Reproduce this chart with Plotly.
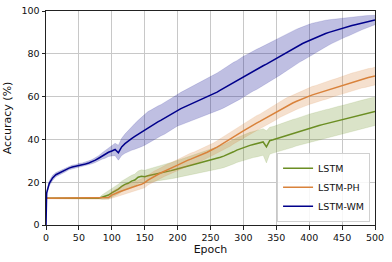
import plotly.graph_objects as go

epochs = [0, 1] + list(range(5, 501, 5))

wm_mean = [
    0.0, 15.0, 19.5, 22.0, 23.5, 24.3, 25.2, 25.8, 26.6, 27.1, 27.4,
    27.9, 28.2, 28.5, 29.0, 29.6, 30.3, 31.2, 32.2, 33.0, 34.0,
    34.6, 35.3, 33.8, 36.5, 38.0, 39.3, 40.4, 41.4, 42.4, 43.5,
    44.6, 45.6, 46.5, 47.4, 48.2, 49.0, 49.9, 50.8, 51.8, 52.7,
    53.7, 54.4, 55.1, 55.8, 56.5, 57.2, 57.8, 58.5, 59.2, 59.8,
    60.5, 61.3, 62.1, 63.0, 63.9, 64.8, 65.6, 66.5, 67.4, 68.4,
    69.3, 70.2, 71.0, 71.9, 72.7, 73.5, 74.4, 75.2, 76.1, 77.0,
    77.9, 78.8, 79.7, 80.6, 81.5, 82.4, 83.2, 84.0, 84.8, 85.5,
    86.2, 86.9, 87.6, 88.3, 88.9, 89.5, 90.0, 90.5, 91.0, 91.4,
    91.8, 92.3, 92.7, 93.2, 93.6, 94.0, 94.4, 94.8, 95.2, 95.5,
    95.8,
]
wm_spread = [
    0.0, 1.0, 1.2, 1.2, 1.0, 0.9, 0.8, 0.9, 0.8, 0.9, 0.8,
    0.9, 0.8, 0.9, 1.0, 1.0, 1.1, 1.2, 1.5, 1.8, 2.0,
    2.3, 2.9, 3.5, 4.0, 4.5, 5.0, 5.5, 6.0, 6.5, 6.9,
    7.3, 7.4, 7.3, 7.5, 7.4, 7.3, 7.5, 7.4, 7.3, 7.5,
    7.4, 7.6, 7.7, 7.8, 7.9, 8.0, 8.1, 8.2, 8.4, 8.5,
    8.6, 8.8, 8.9, 9.0, 9.2, 9.3, 9.4, 9.5, 9.4, 9.6,
    9.5, 9.4, 9.5, 9.3, 9.4, 9.3, 9.2, 9.3, 9.1, 9.2,
    9.0, 8.9, 8.8, 8.6, 8.5, 8.3, 8.2, 8.0, 7.9, 7.8,
    7.6, 7.4, 7.1, 6.8, 6.5, 6.2, 5.9, 5.6, 5.3, 5.0,
    4.8, 4.5, 4.3, 4.0, 3.8, 3.5, 3.2, 3.0, 2.7, 2.5,
    2.2,
]

ph_mean = [
    12.5, 12.5, 12.5, 12.5, 12.5, 12.5, 12.5, 12.5, 12.5, 12.5, 12.5,
    12.5, 12.5, 12.5, 12.5, 12.5, 12.5, 12.5, 12.5, 12.5, 12.8,
    14.0, 14.8, 15.3, 15.9, 16.5, 17.0, 17.5, 18.0, 18.6, 19.0,
    19.8, 21.0, 22.0, 22.8, 23.6, 24.4, 25.2, 25.9, 26.6, 27.3,
    28.0, 28.8, 29.5, 30.2, 30.8, 31.4, 32.0, 32.6, 33.3, 34.0,
    34.8, 35.5, 36.4, 37.3, 38.2, 39.0, 40.0, 41.0, 42.0, 43.0,
    44.0, 45.0, 46.0, 46.8, 47.6, 48.4, 49.3, 50.2, 51.1, 52.0,
    52.9, 53.8, 54.7, 55.5, 56.3, 57.0, 57.7, 58.4, 59.0, 59.6,
    60.2, 60.8, 61.3, 61.8, 62.3, 62.8, 63.3, 63.8, 64.3, 64.8,
    65.3, 65.8, 66.3, 66.8, 67.3, 67.7, 68.1, 68.5, 68.9, 69.2,
    69.6,
]
ph_spread = [
    0.3, 0.3, 0.3, 0.3, 0.3, 0.3, 0.3, 0.3, 0.3, 0.3, 0.3,
    0.3, 0.3, 0.3, 0.3, 0.3, 0.3, 0.3, 0.3, 0.4, 0.8,
    1.5, 1.8, 2.0, 2.1, 2.2, 2.3, 2.2, 2.3, 2.4, 2.3,
    2.4, 2.3, 2.4, 2.5, 2.4, 2.5, 2.5, 2.6, 2.5, 2.6,
    2.6, 2.7, 2.6, 2.7, 2.8, 2.7, 2.8, 2.9, 2.8, 2.9,
    3.0, 2.9, 3.0, 3.1, 3.0, 3.1, 3.2, 3.1, 3.2, 3.3,
    3.3, 3.4, 3.3, 3.4, 3.5, 3.4, 3.5, 3.6, 3.5, 3.6,
    3.7, 3.6, 3.7, 3.8, 3.7, 3.8, 3.8, 3.9, 3.8, 3.9,
    3.9, 4.0, 3.9, 4.0, 4.0, 4.1, 4.0, 4.1, 4.0, 4.1,
    4.1, 4.0, 4.1, 4.2, 4.1, 4.2, 4.1, 4.2, 4.2, 4.1,
    4.2,
]

lstm_mean = [
    12.5, 12.5, 12.5, 12.5, 12.5, 12.5, 12.5, 12.5, 12.5, 12.5, 12.5,
    12.5, 12.5, 12.5, 12.5, 12.5, 12.5, 12.5, 13.0, 13.5, 14.0,
    15.0, 15.8, 16.8, 18.0, 19.0, 19.5, 20.5, 21.0, 22.3, 22.8,
    22.6, 23.0, 23.3, 23.6, 24.0, 24.3, 24.6, 25.0, 25.4, 25.8,
    26.2, 26.6, 27.0, 27.4, 27.8, 28.2, 28.6, 29.0, 29.4, 29.8,
    30.2, 30.6, 31.2, 31.7, 32.2, 32.8, 33.5, 34.2, 35.0, 35.6,
    36.2, 36.7, 37.2, 37.6, 38.0, 38.4, 38.8, 36.5, 39.4, 39.8,
    40.3, 40.8, 41.3, 41.8, 42.3, 42.8, 43.3, 43.8, 44.3, 44.8,
    45.3, 45.7, 46.1, 46.5, 46.9, 47.3, 47.7, 48.1, 48.5, 48.9,
    49.3, 49.7, 50.1, 50.5, 50.9, 51.3, 51.7, 52.1, 52.5, 52.8,
    53.1,
]
lstm_spread = [
    0.0, 0.0, 0.0, 0.0, 0.0, 0.0, 0.0, 0.0, 0.0, 0.0, 0.0,
    0.0, 0.0, 0.0, 0.0, 0.0, 0.0, 0.0, 1.0, 1.5, 1.8,
    2.0, 2.2, 2.3, 2.5, 2.5, 2.6, 2.7, 2.8, 2.9, 3.0,
    3.0, 3.1, 3.2, 3.3, 3.4, 3.5, 3.6, 3.7, 3.8, 3.9,
    4.0, 4.1, 4.2, 4.3, 4.4, 4.5, 4.6, 4.7, 4.8, 4.9,
    5.0, 5.1, 5.2, 5.3, 5.4, 5.5, 5.6, 5.7, 5.8, 5.9,
    6.0, 6.0, 6.1, 6.1, 6.2, 6.3, 6.2, 7.5, 6.3, 6.2,
    6.3, 6.4, 6.3, 6.4, 6.4, 6.5, 6.4, 6.5, 6.5, 6.4,
    6.5, 6.5, 6.6, 6.5, 6.5, 6.6, 6.5, 6.6, 6.5, 6.6,
    6.5, 6.6, 6.6, 6.5, 6.6, 6.6, 6.7, 6.6, 6.6, 6.7,
    6.6,
]

series = [
    ("LSTM", lstm_mean, lstm_spread, "#6b8e23", "rgba(107,142,35,0.25)"),
    ("LSTM-PH", ph_mean, ph_spread, "#d9823b", "rgba(217,130,59,0.25)"),
    ("LSTM-WM", wm_mean, wm_spread, "#00008b", "rgba(0,0,139,0.25)"),
]

fig = go.Figure()

for name, mean, spread, color, fill in series:
    lower = [m - s for m, s in zip(mean, spread)]
    upper = [m + s for m, s in zip(mean, spread)]
    fig.add_trace(go.Scatter(x=epochs, y=lower, mode="lines",
                             line=dict(width=0.5, color=fill),
                             showlegend=False, hoverinfo="skip"))
    fig.add_trace(go.Scatter(x=epochs, y=upper, mode="lines", fill="tonexty",
                             fillcolor=fill, line=dict(width=0.5, color=fill),
                             showlegend=False, hoverinfo="skip"))
    fig.add_trace(go.Scatter(x=epochs, y=mean, mode="lines", name=name,
                             line=dict(width=1.5, color=color)))

axis_style = dict(
    showline=True, mirror=True, linecolor="#222", linewidth=1,
    ticks="outside", ticklen=3.5, tickcolor="#222", automargin=False,
    ticklabeloverflow="allow",
    showgrid=True, gridcolor="#c8c8c8", gridwidth=1, zeroline=False,
)

fig.update_layout(
    width=392, height=262,
    margin=dict(l=46, r=17, t=11, b=37),
    paper_bgcolor="white", plot_bgcolor="white",
    font=dict(family="DejaVu Sans", size=9.5, color="#111"),
    xaxis=dict(range=[0, 500], dtick=50, title=dict(text="Epoch", standoff=2), **axis_style),
    yaxis=dict(range=[0, 100], dtick=20, title=dict(text="Accuracy (%)", standoff=7), **axis_style),
    legend=dict(x=0.985, y=0.015, xanchor="right", yanchor="bottom",
                bgcolor="rgba(255,255,255,0.85)", bordercolor="#d0d0d0", borderwidth=1,
                font=dict(size=9.5), traceorder="normal", tracegroupgap=0, itemwidth=30),
    showlegend=True,
)

# drop the default page margin so the figure sits at the window's corner
fig.write_html("out.html", config={"displayModeBar": False},
               post_script="document.body.style.margin = '0';")
